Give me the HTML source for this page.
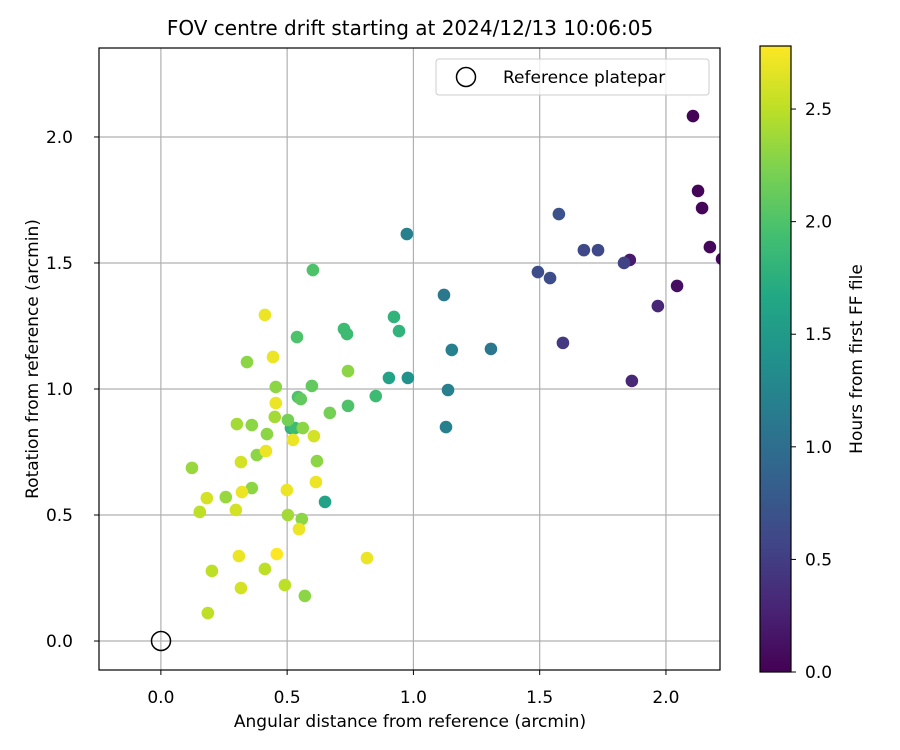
<!DOCTYPE html>
<html><head><meta charset="utf-8"><style>
body{margin:0;background:#fff;}
svg{display:block;font-family:"DejaVu Sans","Liberation Sans",sans-serif;}
</style></head><body>
<svg id="chart" width="900" height="750" viewBox="0 0 900 750">
<defs>
<clipPath id="plotclip"><rect x="99" y="48" width="621" height="622"/></clipPath>
<linearGradient id="viridis" x1="0" y1="1" x2="0" y2="0">
<stop offset="0" stop-color="#440154"/><stop offset="0.1" stop-color="#482475"/><stop offset="0.2" stop-color="#414487"/><stop offset="0.3" stop-color="#355f8d"/><stop offset="0.4" stop-color="#2a788e"/><stop offset="0.5" stop-color="#21918c"/><stop offset="0.6" stop-color="#22a884"/><stop offset="0.7" stop-color="#44bf70"/><stop offset="0.8" stop-color="#7ad151"/><stop offset="0.9" stop-color="#bddf26"/><stop offset="1" stop-color="#fde725"/>
</linearGradient>
</defs>
<rect width="900" height="750" fill="#fff"/>
<text x="410" y="35" text-anchor="middle" font-size="20" fill="#000">FOV centre drift starting at 2024/12/13 10:06:05</text>
<g id="grid"></g>
<g id="points" clip-path="url(#plotclip)"></g>
<circle cx="161" cy="641" r="9.5" fill="none" stroke="#000" stroke-width="1.5"/>
<rect x="99" y="48" width="621" height="622" fill="none" stroke="#000" stroke-width="1.2"/>
<g id="xticks"></g>
<g id="yticks"></g>
<text x="410" y="727" text-anchor="middle" font-size="17">Angular distance from reference (arcmin)</text>
<text transform="translate(38,359) rotate(-90)" text-anchor="middle" font-size="17">Rotation from reference (arcmin)</text>
<g>
<rect x="436" y="59" width="273" height="36" rx="3" fill="#fff" fill-opacity="0.8" stroke="#ccc"/>
<circle cx="466" cy="77" r="9.5" fill="none" stroke="#000" stroke-width="1.5"/>
<text x="503" y="83" font-size="17">Reference platepar</text>
</g>
<rect x="760" y="46" width="31" height="626" fill="url(#viridis)" stroke="#000" stroke-width="1.2"/>
<g id="cticks"></g>
<text transform="translate(862,359) rotate(-90)" text-anchor="middle" font-size="17">Hours from first FF file</text>
</svg>
<script>
const xVals=[2.107,2.127,2.143,2.174,2.222,2.044,1.857,1.968,1.865,1.592,1.834,1.675,1.731,1.541,1.493,1.576,
0.974,1.121,1.152,1.307,1.137,1.129,0.978,0.903,0.650,
0.602,0.725,0.737,0.923,0.943,0.539,0.543,0.554,0.851,0.741,0.598,0.515,0.531,0.669,0.741,0.618,
0.123,0.154,0.257,0.341,0.455,0.451,0.360,0.301,0.380,0.360,0.420,0.503,0.562,0.558,0.503,0.412,0.202,0.491,0.570,
0.412,0.444,0.455,0.182,0.297,0.317,0.321,0.317,0.416,0.523,0.606,0.614,0.499,0.547,0.459,0.816,0.186,0.309];
const yVals=[2.083,1.786,1.718,1.563,1.516,1.409,1.512,1.329,1.032,1.183,1.500,1.551,1.551,1.440,1.464,1.694,
1.615,1.373,1.155,1.159,0.996,0.849,1.044,1.044,0.552,
1.472,1.238,1.218,1.286,1.230,1.206,0.968,0.960,0.972,0.933,1.012,0.845,0.845,0.905,1.071,0.714,
0.687,0.512,0.571,1.107,1.008,0.889,0.857,0.861,0.738,0.607,0.821,0.877,0.845,0.484,0.500,0.286,0.278,0.222,0.179,
1.294,1.127,0.944,0.567,0.520,0.710,0.591,0.210,0.754,0.798,0.813,0.631,0.599,0.444,0.345,0.329,0.111,0.337];
const hours=[0.02,0.03,0.04,0.05,0.06,0.1,0.2,0.3,0.3,0.45,0.55,0.6,0.6,0.65,0.65,0.7,
1.2,1.1,1.2,1.1,1.2,1.2,1.4,1.6,1.6,
2.0,1.9,1.9,1.8,1.8,2.0,2.0,2.1,1.9,2.0,2.1,1.8,1.9,2.2,2.3,2.3,
2.35,2.5,2.35,2.3,2.3,2.4,2.3,2.4,2.3,2.3,2.3,2.2,2.3,2.3,2.4,2.5,2.5,2.5,2.3,
2.7,2.7,2.7,2.6,2.6,2.6,2.7,2.6,2.7,2.7,2.6,2.7,2.7,2.7,2.8,2.7,2.5,2.7];
const xTicks=["0.0","0.5","1.0","1.5","2.0"];
const yTicks=["0.0","0.5","1.0","1.5","2.0"];
const cTicks=["0.0","0.5","1.0","1.5","2.0","2.5"];
const X0=99,X1=720,Y0=670,Y1=48,xmin=-0.245,xmax=2.214,ymin=-0.115,ymax=2.353,cmax=2.78;
const sx=v=>X0+(v-xmin)/(xmax-xmin)*(X1-X0);
const sy=v=>Y0-(v-ymin)/(ymax-ymin)*(Y0-Y1);
const sc=v=>672-v/cmax*626;
const stops=[[68,1,84],[72,36,117],[65,68,135],[53,95,141],[42,120,142],[33,145,140],[34,168,132],[68,191,112],[122,209,81],[189,223,38],[253,231,37]];
function viridis(t){t=Math.max(0,Math.min(1,t))*10;const i=Math.min(9,Math.floor(t)),f=t-i;const a=stops[i],b=stops[i+1];
return `rgb(${a.map((c,k)=>Math.round(c+(b[k]-c)*f)).join(',')})`;}
const NS="http://www.w3.org/2000/svg";
function mk(tag,attrs,parent){const e=document.createElementNS(NS,tag);for(const k in attrs)e.setAttribute(k,attrs[k]);parent.appendChild(e);return e;}
const grid=document.getElementById('grid'),xt=document.getElementById('xticks'),yt=document.getElementById('yticks'),ct=document.getElementById('cticks'),pts=document.getElementById('points');
xTicks.forEach(s=>{const v=parseFloat(s),x=sx(v);
const g=mk('line',{x1:x,x2:x,y1:Y1,y2:Y0,stroke:'#b0b0b0','stroke-width':1.2},grid);


const t=mk('line',{x1:x,x2:x,y1:Y0,y2:Y0+5,stroke:'#000'},xt);


const l=mk('text',{x:x,y:Y0+33,'text-anchor':'middle','font-size':17},xt);l.textContent=s;

});
yTicks.forEach(s=>{const v=parseFloat(s),y=sy(v);
const g=mk('line',{x1:X0,x2:X1,y1:y,y2:y,stroke:'#b0b0b0','stroke-width':1.2},grid);


const t=mk('line',{x1:X0-5,x2:X0,y1:y,y2:y,stroke:'#000'},yt);


const l=mk('text',{x:X0-26,y:y+6,'text-anchor':'end','font-size':17},yt);l.textContent=s;

});
cTicks.forEach(s=>{const v=parseFloat(s),y=sc(v);
const t=mk('line',{x1:791,x2:796,y1:y,y2:y,stroke:'#000'},ct);


const l=mk('text',{x:805,y:y+6,'font-size':17},ct);l.textContent=s;

});
xVals.forEach((xv,i)=>{const c=mk('circle',{cx:sx(xv),cy:sy(yVals[i]),r:6.3,fill:viridis(hours[i]/cmax)},pts);

});
</script>
</body></html>
